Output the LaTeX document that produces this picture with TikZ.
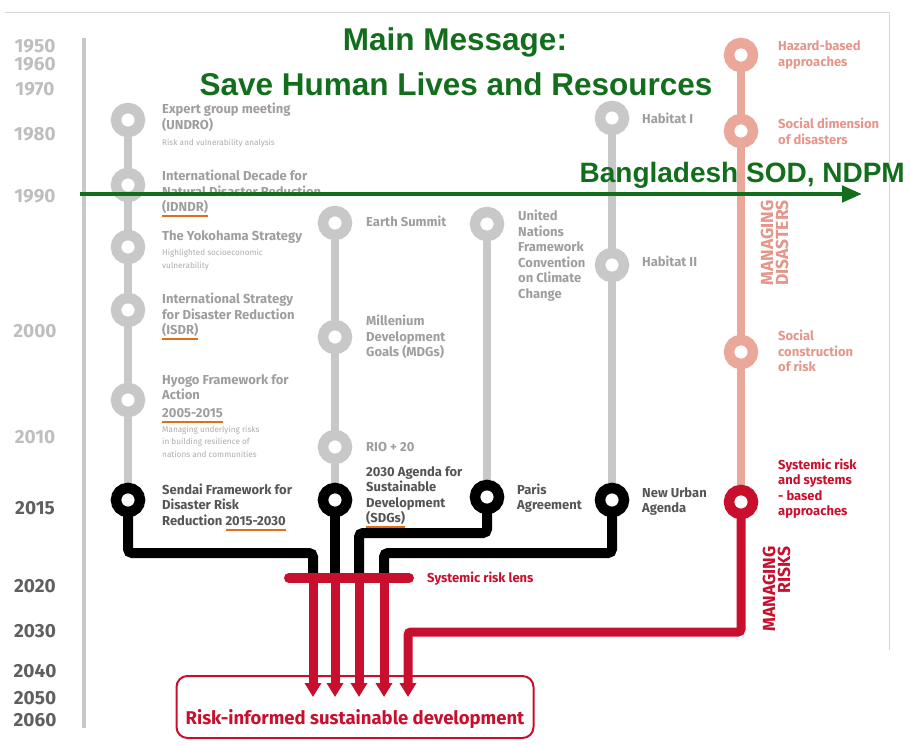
\documentclass[tikz,border=0pt]{standalone}
\usepackage{fontspec}
\setmainfont{Fira Sans}
\newfontfamily\titlefont{Liberation Sans}
\usetikzlibrary{arrows.meta,backgrounds}

\definecolor{ringgrey}{RGB}{200,200,200}
\definecolor{labgrey}{RGB}{158,158,158}
\definecolor{notegrey}{RGB}{172,172,172}
\definecolor{labdark}{RGB}{85,85,85}
\definecolor{yearlight}{RGB}{190,190,190}
\definecolor{yeardark}{RGB}{95,95,95}
\definecolor{pinkline}{RGB}{234,168,155}
\definecolor{pinktext}{RGB}{228,150,138}
\definecolor{riskred}{RGB}{200,16,46}
\definecolor{ulorange}{RGB}{228,110,20}
\definecolor{msggreen}{RGB}{18,110,28}
\definecolor{framegrey}{RGB}{215,215,215}

% multi-line blocks whose baseline is the first line
\newcommand\stackL[1]{\vtop{\let\\\cr\halign{##\hfil\cr#1\crcr}}}
\newcommand\stackR[1]{\vtop{\let\\\cr\halign{\hfil##\cr#1\crcr}}}
% orange underline
\newcommand\ouline[1]{\setbox0\hbox{#1}\rlap{\textcolor{ulorange}{\rule[-5.5pt]{\wd0}{2pt}}}\box0}

\tikzset{
  ring/.style={circle, draw=ringgrey, fill=white, line width=10.5pt, minimum size=24pt, inner sep=0pt},
  blackring/.style={ring, draw=black},
  pinkring/.style={ring, draw=pinkline},
  redring/.style={ring, draw=riskred},
  greyline/.style={draw=ringgrey, line width=8pt},
  pinkpath/.style={draw=pinkline, line width=8pt},
  blackpath/.style={draw=black, line width=10pt, rounded corners=4pt},
  redpath/.style={draw=riskred, line width=9pt, rounded corners=3pt, -{Triangle[length=14pt,width=16pt]}},
  lab/.style={anchor=base west, inner sep=0pt, text=labgrey, font=\bfseries\fontsize{13}{15.5}\selectfont},
  newlab/.style={lab, text=labdark},
  pinklab/.style={lab, text=pinktext},
  redlab/.style={lab, text=riskred},
  note/.style={anchor=base west, inner sep=0pt, text=notegrey, font=\fontsize{8.2}{12.5}\selectfont},
  year/.style={inner sep=0pt, text=yearlight, font=\bfseries\fontsize{19}{19}\selectfont},
  newyear/.style={year, text=yeardark},
  rotlab/.style={inner sep=0pt, rotate=90, anchor=base east, font=\bfseries\fontsize{17.5}{15}\selectfont},
  msg/.style={inner sep=0pt, anchor=base, text=msggreen, font=\titlefont\bfseries\fontsize{31.5}{31.5}\selectfont},
}

\begin{document}
\begin{tikzpicture}[x=1pt,y=-1pt]
\useasboundingbox (0,0) rectangle (911,746);

% frame and time axis
\draw[framegrey, line width=0.8pt] (5,12) -- (889,12) -- (889,650);
\draw[ringgrey, line width=4pt] (84,38) -- (84,728);

% years
\foreach \yr/\yy in {1950/46,1960/64,1970/89,1980/134,1990/196,2000/331,2010/437}
  \node[year] (y\yr) at (35,\yy) {\yr};
\foreach \yr/\yy in {2015/508,2020/586,2030/631,2040/671,2050/698,2060/720}
  \node[newyear] (y\yr) at (35,\yy) {\yr};

% milestones: disaster risk reduction
\node[ring] (e1) at (128,120) {};
\node[ring] (e2) at (128,185) {};
\node[ring] (e3) at (128,247) {};
\node[ring] (e4) at (128,310) {};
\node[ring] (e5) at (128,400) {};
\node[blackring] (k1) at (128,500) {};
% sustainable development
\node[ring] (s1) at (335,223) {};
\node[ring] (s2) at (335,337) {};
\node[ring] (s3) at (335,447) {};
\node[blackring] (k2) at (335,500) {};
% climate
\node[ring] (u1) at (487,224) {};
\node[blackring] (k3) at (487,497) {};
% habitat
\node[ring] (h1) at (612,118) {};
\node[ring] (h2) at (612,265) {};
\node[blackring] (k4) at (612,500) {};
% approaches
\node[pinkring] (p1) at (741,55) {};
\node[pinkring] (p2) at (741,131) {};
\node[pinkring] (p3) at (741,352) {};
\node[redring] (rr) at (741,502) {};

% junctions and arrow ends
\coordinate (j1) at (313,553);
\coordinate (j3) at (359,533);
\coordinate (j4) at (384,553);
\coordinate (j5) at (408,632);
\coordinate (a1) at (313,578);
\coordinate (a2) at (335,578);
\coordinate (a3) at (359,578);
\coordinate (a4) at (384,578);
\coordinate (t1) at (313,697);
\coordinate (t2) at (335,697);
\coordinate (t3) at (359,697);
\coordinate (t4) at (384,697);
\coordinate (t5) at (408,697);
\coordinate (lensL) at (289,578);
\coordinate (lensR) at (409,578);

\begin{scope}[on background layer]
  \draw[greyline] (e1.center) -- (k1.center);
  \draw[greyline] (s1.center) -- (k2.center);
  \draw[greyline] (u1.center) -- (k3.center);
  \draw[greyline] (h1.center) -- (k4.center);
  \draw[pinkpath] (p1.center) -- (rr.center);
  \draw[blackpath] (k1.center) |- (j1) -- (a1);
  \draw[blackpath] (k2.center) -- (a2);
  \draw[blackpath] (k3.center) |- (j3) -- (a3);
  \draw[blackpath] (k4.center) |- (j4) -- (a4);
  \draw[redpath] (a1) -- (t1);
  \draw[redpath] (a2) -- (t2);
  \draw[redpath] (a3) -- (t3);
  \draw[redpath] (a4) -- (t4);
  \draw[redpath] (rr.center) |- (j5) -- (t5);
\end{scope}

% systemic risk lens
\draw[riskred, line width=10pt, line cap=round] (lensL) -- (lensR);
\node[redlab] (lens) at (427,582) {Systemic risk lens};

% goal
\node[draw=riskred, line width=2pt, rounded corners=11pt, minimum width=357pt, minimum height=62pt, inner sep=0pt] (box) at (355,707) {};
\node[inner sep=0pt, anchor=base, text=riskred, font=\bfseries\fontsize{18.5}{18.5}\selectfont] (goal) at (355,724) {Risk-informed sustainable development};

% labels, column 1
\node[lab] (le1) at (162,114) {\stackL{Expert group meeting\\(UNDRO)}};
\node[note] (ne1) at (162,146) {Risk and vulnerability analysis};
\node[lab] (le2) at (162,181) {\stackL{International Decade for\\Natural Disaster Reduction\\\ouline{(IDNDR)}}};
\node[lab] (le3) at (162,241) {The Yokohama Strategy};
\node[note] (ne3) at (162,256) {\stackL{Highlighted socioeconomic\\vulnerability}};
\node[lab] (le4) at (162,304) {\stackL{International Strategy\\for Disaster Reduction\\\ouline{(ISDR)}}};
\node[lab] (le5) at (162,384) {\stackL{Hyogo Framework for\\Action}};
\node[lab] (le5b) at (162,417) {\ouline{2005-2015}};
\node[note] (ne5) at (162,432) {\stackL{Managing underlying risks\\in building resilience of\\nations and communities}};
\node[newlab] (lk1) at (162,494) {\stackL{Sendai Framework for\\Disaster Risk\\Reduction \ouline{2015-2030}}};

% labels, column 2
\node[lab] (ls1) at (366,227) {Earth Summit};
\node[lab] (ls2) at (366,326) {\stackL{Millenium\\Development\\Goals (MDGs)}};
\node[lab] (ls3) at (366,451) {RIO + 20};
\node[newlab] (lk2) at (366,476) {\stackL{2030 Agenda for\\Sustainable\\Development\\\ouline{(SDGs)}}};

% labels, column 3
\node[lab] (lu1) at (518,221) {\stackL{United\\Nations\\Framework\\Convention\\on Climate\\Change}};
\node[newlab] (lk3) at (517,494) {\stackL{Paris\\Agreement}};

% labels, column 4
\node[lab] (lh1) at (642,124) {Habitat I};
\node[lab] (lh2) at (642,267) {Habitat II};
\node[newlab] (lk4) at (642,497) {\stackL{New Urban\\Agenda}};

% labels, column 5
\node[pinklab] (lp1) at (778,51) {\stackL{Hazard-based\\approaches}};
\node[pinklab] (lp2) at (778,129) {\stackL{Social dimension\\of disasters}};
\node[pinklab] (lp3) at (778,341) {\stackL{Social\\construction\\of risk}};
\node[redlab] (lrr) at (778,469) {\stackL{Systemic risk\\and systems\\- based\\approaches}};
\node[rotlab, text=pinktext] (mdis) at (773,200) {\stackR{MANAGING\\DISASTERS}};
\node[rotlab, text=riskred] (mrisk) at (775,546) {\stackR{MANAGING\\RISKS}};

% main message
\node[msg] (msg1) at (455,51) {Main Message:};
\node[msg] (msg2) at (456,96) {Save Human Lives and Resources};
\coordinate (gs) at (80,194);
\coordinate (ge) at (862,194);
\draw[msggreen, line width=4.5pt, -{Triangle[length=20pt,width=16pt]}] (gs) -- (ge);
\node[msg, anchor=base east, font=\titlefont\bfseries\fontsize{28}{28}\selectfont] (bd) at (905,183) {Bangladesh SOD, NDPM};
\end{tikzpicture}
\end{document}
